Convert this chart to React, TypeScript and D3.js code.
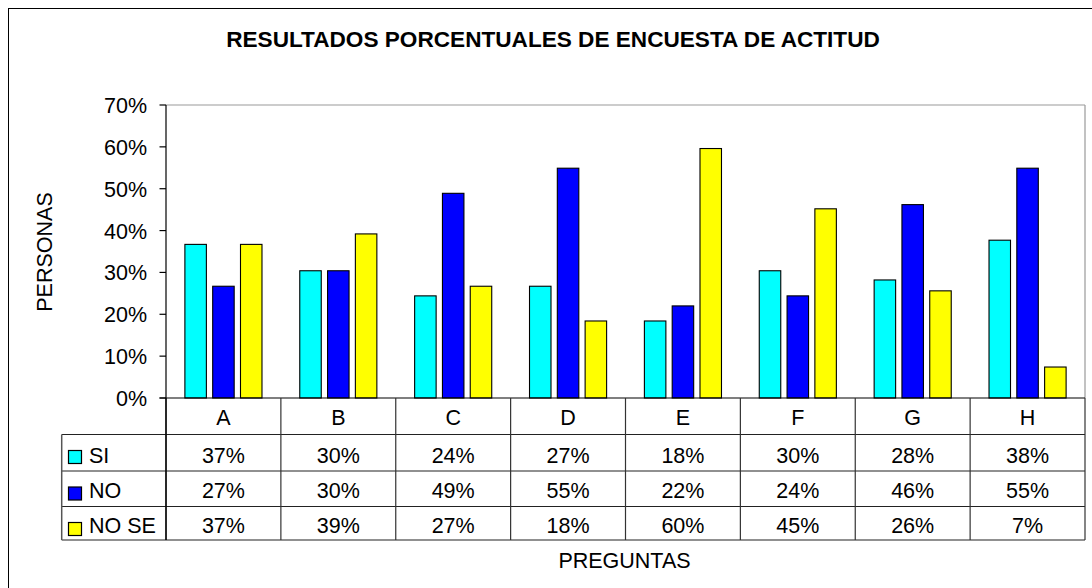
import React from "react";
import * as d3 from "d3";

const categories = ["A", "B", "C", "D", "E", "F", "G", "H"];
const seriesNames = ["SI", "NO", "NO SE"];
const siValues = [36.7, 30.4, 24.4, 26.7, 18.4, 30.4, 28.2, 37.7];
const noValues = [26.7, 30.4, 48.9, 54.9, 22.0, 24.4, 46.2, 54.9];
const noSeValues = [36.7, 39.2, 26.7, 18.4, 59.6, 45.2, 25.6, 7.4];
const yTicks = [0, 10, 20, 30, 40, 50, 60, 70];
const seriesColors = ["#00FFFF", "#0000FF", "#FFFF00"];

const W = 1092;
const H = 588;
const FONT = "'Liberation Sans', Arial, sans-serif";

export default function App() {
  const series = [siValues, noValues, noSeValues];
  const left = 166;
  const right = 1085;
  const top = 105;
  const bottom = 398;
  const tableLeft = 61.7;
  const rowLines = [398, 434.5, 471, 506.5, 540];

  const x0 = d3.scaleBand<string>().domain(categories).range([left, right]).paddingInner(0).paddingOuter(0);
  const bw = x0.bandwidth();
  const groupW = 77.1;
  const off = (bw - groupW) / 2;
  const x1 = d3.scaleBand<string>().domain(seriesNames).range([off, bw - off]).paddingInner(0.227).paddingOuter(0);
  const y = d3.scaleLinear().domain([0, 70]).range([bottom, top]);

  const boundaries = categories.map((c) => x0(c)!).concat([right]);

  return (
    <svg width={W} height={H} style={{ display: "block", position: "absolute", left: 0, top: 0 }} fontFamily={FONT}>
      <rect x={0} y={0} width={W} height={H} fill="#fff" />
      <rect x={8.5} y={8.5} width={1100} height={600} fill="#fff" stroke="#000" strokeWidth={1} />

      <text x={553} y={47} textAnchor="middle" fontSize={22.6} fontWeight="bold" fill="#000">
        RESULTADOS PORCENTUALES DE ENCUESTA DE ACTITUD
      </text>

      {/* plot frame */}
      <line x1={left} x2={right} y1={top} y2={top} stroke="#999" strokeWidth={1.2} />
      <line x1={right} x2={right} y1={top} y2={bottom} stroke="#999" strokeWidth={1.2} />

      {/* bars */}
      {series.map((vals, si) =>
        vals.map((v, ci) => {
          const xx = x0(categories[ci])! + x1(seriesNames[si])!;
          return (
            <rect
              key={`b-${si}-${ci}`}
              x={xx}
              y={y(v)}
              width={x1.bandwidth()}
              height={bottom - y(v)}
              fill={seriesColors[si]}
              stroke="#000"
              strokeWidth={1.1}
            />
          );
        })
      )}

      {/* y axis */}
      <line x1={left} x2={left} y1={top} y2={540} stroke="#000" strokeWidth={1.2} />
      {yTicks.map((t) => (
        <g key={`t-${t}`}>
          <line x1={159.5} x2={left} y1={y(t)} y2={y(t)} stroke="#000" strokeWidth={1.2} />
          <text x={147} y={y(t) + 8} textAnchor="end" fontSize={21.5} fill="#000">
            {t}%
          </text>
        </g>
      ))}

      <text
        transform={`translate(51.5,252) rotate(-90)`}
        textAnchor="middle"
        fontSize={21.5}
        fill="#000"
      >
        PERSONAS
      </text>

      {/* table */}
      <line x1={159.5} x2={right} y1={bottom} y2={bottom} stroke="#000" strokeWidth={1.2} />
      {rowLines.slice(1).map((ry) => (
        <line key={`r-${ry}`} x1={tableLeft} x2={right} y1={ry} y2={ry} stroke="#222" strokeWidth={1.2} />
      ))}
      <line x1={tableLeft} x2={tableLeft} y1={rowLines[1]} y2={rowLines[4]} stroke="#555" strokeWidth={1.5} />
      {boundaries.map((bx, i) => (
        <line key={`v-${i}`} x1={bx} x2={bx} y1={bottom} y2={rowLines[4]} stroke={i === 0 ? "#000" : "#333"} strokeWidth={1.2} />
      ))}
      {categories.map((c) => (
        <text key={`h-${c}`} x={x0(c)! + bw / 2} y={424.5} textAnchor="middle" fontSize={21.5} fill="#000">
          {c}
        </text>
      ))}
      {series.map((vals, si) => {
        const baseY = [462.5, 498, 533][si];
        const rowTop = rowLines[si + 1];
        return (
          <g key={`row-${si}`}>
            <rect x={68.5} y={rowTop + 16} width={13} height={13} fill={seriesColors[si]} stroke="#000" strokeWidth={1.2} />
            <text x={89} y={baseY} fontSize={21.5} fill="#000">
              {seriesNames[si]}
            </text>
            {vals.map((v, ci) => (
              <text key={`c-${si}-${ci}`} x={x0(categories[ci])! + bw / 2} y={baseY} textAnchor="middle" fontSize={21.5} fill="#000">
                {Math.round(v)}%
              </text>
            ))}
          </g>
        );
      })}

      <text x={624.5} y={567.5} textAnchor="middle" fontSize={21.5} fill="#000">
        PREGUNTAS
      </text>
    </svg>
  );
}
